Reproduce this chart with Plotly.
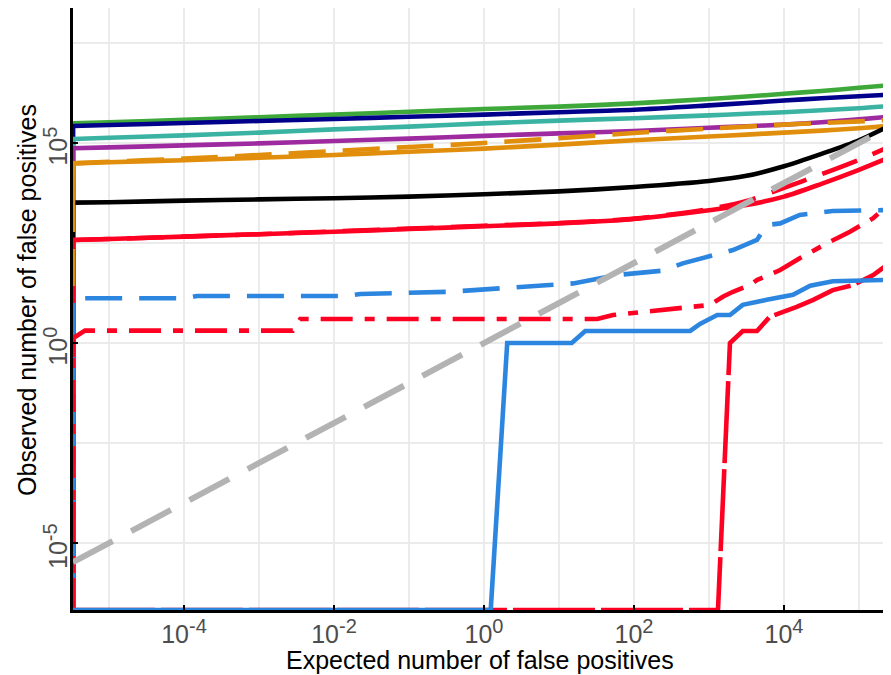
import plotly.graph_objects as go

# ---------------- data ----------------
# shared x grid for the smooth curves (expected number of false positives)
X_SMOOTH = [3.31e-6, 1e-5, 1e-4, 1e-3, 1e-2, 0.1, 1, 10, 100, 1000, 3162, 1e4, 31623, 1e5, 2.69e5]

GREEN_Y = [3.09e5, 3.31e5, 3.80e5, 4.42e5, 5.13e5, 6.03e5, 7.08e5, 8.13e5, 9.77e5, 1.26e6, 1.45e6, 1.70e6, 2.00e6, 2.40e6, 2.82e6]
NAVY_Y = [2.66e5, 2.82e5, 3.16e5, 3.55e5, 3.98e5, 4.52e5, 5.13e5, 5.89e5, 6.76e5, 8.71e5, 1.00e6, 1.15e6, 1.32e6, 1.48e6, 1.62e6]
TEAL_Y = [1.26e5, 1.35e5, 1.55e5, 1.82e5, 2.19e5, 2.57e5, 3.09e5, 3.63e5, 4.17e5, 4.90e5, 5.37e5, 5.89e5, 6.61e5, 7.41e5, 8.51e5]
PURPLE_Y = [7.41e4, 7.76e4, 8.71e4, 9.77e4, 1.12e5, 1.29e5, 1.51e5, 1.74e5, 2.00e5, 2.40e5, 2.63e5, 2.88e5, 3.31e5, 3.89e5, 4.57e5]
ORANGE_SOLID_Y = [3.09e4, 3.31e4, 3.72e4, 4.27e4, 5.01e4, 6.03e4, 7.24e4, 9.12e4, 1.17e5, 1.45e5, 1.62e5, 1.82e5, 2.04e5, 2.34e5, 2.69e5]
ORANGE_DASH_Y = [3.09e4, 3.39e4, 4.07e4, 5.01e4, 6.31e4, 7.94e4, 1.00e5, 1.32e5, 1.78e5, 2.29e5, 2.57e5, 2.88e5, 3.16e5, 3.47e5, 3.80e5]
BLACK_Y = [3.24e3, 3.31e3, 3.63e3, 3.89e3, 4.17e3, 4.57e3, 5.25e3, 6.17e3, 7.94e3, 1.12e4, 1.51e4, 2.63e4, 5.37e4, 1.17e5, 2.82e5]
RED_SOLID_Y = [376, 398, 457, 525, 603, 708, 832, 977, 1259, 2089, 2818, 4571, 9550, 21380, 45710]
RED_DASH_Y = [376, 398, 457, 525, 617, 724, 851, 1000, 1288, 2239, 3548, 7586, 16600, 38020, 85110]

# step-like series (0 = no observed false positives, drawn on the panel floor)
BLUE_DASH_X = [3.31e-6, 3.31e-6, 1.10e-4, 1.48e-4, 1.48e-2, 2.24e-2, 0.355, 2.75, 15.5, 35.5, 58.9, 245, 447, 2089, 4365, 5888, 8913, 16220, 44670, 2.69e5]
BLUE_DASH_Y = [0, 13.2, 13.2, 15.0, 15.0, 16.8, 19.1, 24.5, 30.9, 41.7, 50.1, 64.6, 97.7, 211, 376, 891, 977, 1585, 1995, 2113]

RED_DOTDASH_X = [3.31e-6, 3.31e-6, 4.79e-6, 2.82e-3, 3.55e-3, 32.4, 52.5, 447, 1023, 1549, 2089, 3548, 4365, 8913, 16220, 37150, 75860, 154900, 2.69e5]
RED_DOTDASH_Y = [0, 1.32, 2.04, 2.04, 3.98, 3.98, 5.01, 7.41, 8.91, 14.5, 19.1, 28.2, 37.6, 66.8, 132, 309, 603, 1318, 3388]

BLUE_SOLID_X = [3.31e-6, 1.23, 2.04, 14.8, 22.4, 562, 759, 1288, 1905, 2818, 5888, 13180, 22390, 44670, 2.69e5]
BLUE_SOLID_Y = [0, 0, 1, 1, 2, 2, 3, 5, 5, 9, 12, 16, 27, 35, 38]

RED_LONGDASH_X = [3.31e-6, 1318, 1905, 2818, 4365, 6457, 14790, 24550, 44670, 83180, 154900, 2.69e5]
RED_LONGDASH_Y = [0, 0, 1, 2, 2, 4.5, 8, 12, 21, 28, 50, 106]

IDENTITY_X = [3.31e-6, 2.69e5]

X_TICKS = [1e-4, 1e-2, 1, 1e2, 1e4]
X_TICK_EXP = ["-4", "-2", "0", "2", "4"]
X_MINOR = [1e-5, 1e-3, 1e-1, 1e1, 1e3, 1e5]
Y_TICKS = [1e-5, 1, 1e5]
Y_TICK_EXP = ["-5", "0", "5"]
Y_MINOR = [10 ** -2.5, 10 ** 2.5, 10 ** 7.5]

X_TITLE = "Expected number of false positives"
Y_TITLE = "Observed number of false positives"

X_RANGE_LOG = [-5.48, 5.427]
Y_RANGE_LOG = [-6.675, 8.375]
FLOOR = 10 ** -6.675  # zero counts are squished onto the panel floor


def squish(vals):
    return [v if v > 0 else FLOOR for v in vals]


def pow10(exp, pad=""):
    return "10<sup><span style='font-size:20px'>%s</span></sup>%s" % (exp, pad)


# ---------------- styles ----------------
RED = "#FE0022"
BLUE = "#2C86E0"
DASHED = "37px,17px"
DOTDASH = "32px,12px,10px,12px"
LONGDASH = "82px,6px"
W = 4.6

# (x, y, colour, dash, smooth)
series = [
    (X_SMOOTH, GREEN_Y, "#3EA93A", "solid", True),
    (X_SMOOTH, NAVY_Y, "#00008B", "solid", True),
    (X_SMOOTH, TEAL_Y, "#3BB3A3", "solid", True),
    (X_SMOOTH, PURPLE_Y, "#9E2AA0", "solid", True),
    (X_SMOOTH, ORANGE_SOLID_Y, "#E08E0B", "solid", True),
    (X_SMOOTH, BLACK_Y, "#000000", "solid", True),
    (X_SMOOTH, RED_SOLID_Y, RED, "solid", True),
    (X_SMOOTH, RED_DASH_Y, RED, DASHED, True),
    (X_SMOOTH, ORANGE_DASH_Y, "#E08E0B", DASHED, True),
    (BLUE_DASH_X, BLUE_DASH_Y, BLUE, DASHED, False),
    (RED_DOTDASH_X, RED_DOTDASH_Y, RED, DOTDASH, False),
    (RED_LONGDASH_X, RED_LONGDASH_Y, RED, LONGDASH, False),
    (BLUE_SOLID_X, BLUE_SOLID_Y, BLUE, "solid", False),
]

fig = go.Figure()
for xs, ys, color, dash, smooth in series:
    if smooth:
        # vertical rise from the floor at the left edge, then the smooth curve
        fig.add_trace(go.Scatter(x=[xs[0], xs[0]], y=squish([0, ys[0]]), mode="lines",
                                 line=dict(color=color, width=W, dash=dash), hoverinfo="skip"))
        fig.add_trace(go.Scatter(x=xs, y=ys, mode="lines",
                                 line=dict(color=color, width=W, dash=dash,
                                           shape="spline", smoothing=0.8),
                                 hoverinfo="skip"))
    else:
        fig.add_trace(go.Scatter(x=xs, y=squish(ys), mode="lines",
                                 line=dict(color=color, width=W, dash=dash),
                                 hoverinfo="skip"))

fig.add_trace(go.Scatter(x=IDENTITY_X, y=IDENTITY_X, mode="lines",
                         line=dict(color="#B3B3B3", width=6, dash="45px,21px"),
                         hoverinfo="skip"))

GRID = "#EBEBEB"
axis_common = dict(
    type="log", showgrid=True, gridcolor=GRID, gridwidth=2,
    showline=True, linecolor="black", linewidth=3, zeroline=False,
    ticks="inside", ticklen=5, tickwidth=2, tickcolor="black",
    tickfont=dict(size=25, color="#4D4D4D"), automargin=False,
)

# the page adds an 8px body margin, so the figure is 8px smaller than the window
fig.update_layout(
    width=883, height=667,
    margin=dict(l=65, r=0, t=0, b=65),
    plot_bgcolor="white", paper_bgcolor="white",
    showlegend=False,
    font=dict(family="Liberation Sans, Arial, sans-serif", color="black"),
    xaxis=dict(
        **axis_common, range=X_RANGE_LOG, tickmode="array",
        tickvals=X_TICKS, ticktext=[pow10(e) for e in X_TICK_EXP],
        minor=dict(tickmode="array", tickvals=X_MINOR, showgrid=True, gridcolor=GRID, gridwidth=2, ticks=""),
    ),
    yaxis=dict(
        **axis_common, range=Y_RANGE_LOG, tickmode="array",
        tickvals=Y_TICKS, ticktext=[pow10(e, "&nbsp;&nbsp;") for e in Y_TICK_EXP], tickangle=-90,
        ticklabelstandoff=-7,
        minor=dict(tickmode="array", tickvals=Y_MINOR, showgrid=True, gridcolor=GRID, gridwidth=2, ticks=""),
    ),
    annotations=[
        dict(text=X_TITLE, xref="paper", yref="paper", x=0.498, y=0,
             xanchor="center", yanchor="middle", yshift=-50, showarrow=False,
             font=dict(size=25, color="black")),
        dict(text=Y_TITLE, xref="paper", yref="paper", x=0, y=0.515,
             xanchor="center", yanchor="middle", xshift=-46, textangle=-90,
             showarrow=False, font=dict(size=25, color="black")),
    ],
)

fig.write_html("out.html")
